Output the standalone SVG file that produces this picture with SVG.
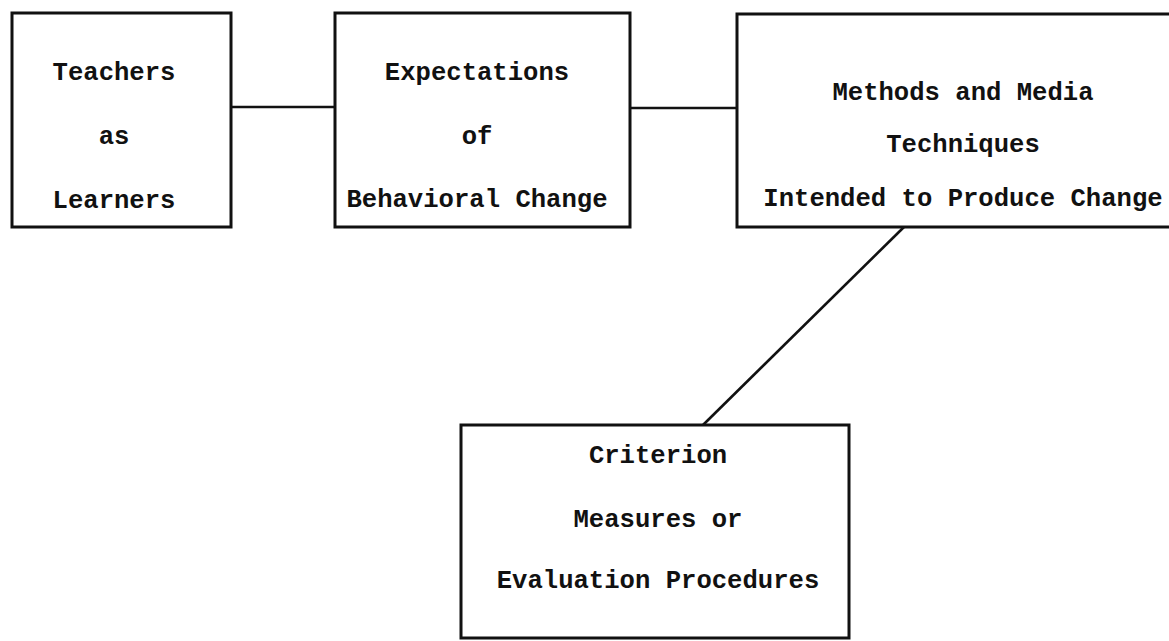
<svg xmlns="http://www.w3.org/2000/svg" width="1169" height="641" viewBox="0 0 1169 641">
<style>
.box{fill:#fff;stroke:#111;stroke-width:3}
.lbl{font-family:"Liberation Mono","DejaVu Sans Mono",monospace;font-size:25.6px;font-weight:bold;fill:#111;text-anchor:middle}
.con{stroke:#111;stroke-width:2.6;fill:none}
</style>
<rect width="1169" height="641" fill="#fff"/>
<g id="connectors">
<line class="con" x1="231" y1="107" x2="335" y2="107"/>
<line class="con" x1="630" y1="108" x2="737" y2="108"/>
<line class="con" x1="904" y1="227" x2="703" y2="425"/>
</g>
<g id="teachers">
<rect class="box" x="12" y="13" width="219" height="214"/>
<text class="lbl" x="114" y="80">Teachers</text>
<text class="lbl" x="114" y="144">as</text>
<text class="lbl" x="114" y="208">Learners</text>
</g>
<g id="expectations">
<rect class="box" x="335" y="13" width="295" height="214"/>
<text class="lbl" x="477" y="80">Expectations</text>
<text class="lbl" x="477" y="144">of</text>
<text class="lbl" x="477" y="207">Behavioral Change</text>
</g>
<g id="methods">
<rect class="box" x="737" y="14" width="440" height="213"/>
<text class="lbl" x="963" y="100">Methods and Media</text>
<text class="lbl" x="963" y="152">Techniques</text>
<text class="lbl" x="963" y="206">Intended to Produce Change</text>
</g>
<g id="criterion">
<rect class="box" x="461" y="425" width="388" height="213"/>
<text class="lbl" x="658" y="463">Criterion</text>
<text class="lbl" x="658" y="527">Measures or</text>
<text class="lbl" x="658" y="588">Evaluation Procedures</text>
</g>
</svg>
